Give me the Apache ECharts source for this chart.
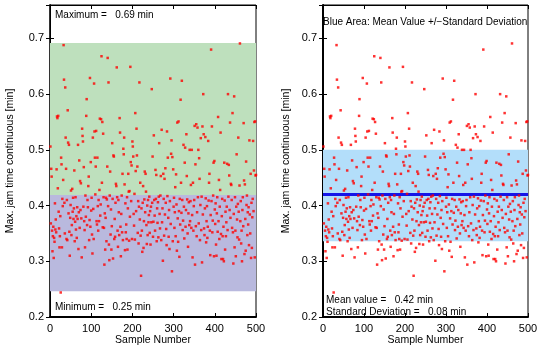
<!DOCTYPE html>
<html>
<head>
<meta charset="utf-8">
<script src="https://cdn.jsdelivr.net/npm/echarts@6/dist/echarts.min.js"></script>
<style>html,body{margin:0;padding:0;background:#fff}#c{width:537px;height:345px}</style>
</head>
<body>
<div id="c"></div>
<script>
// Max. jam time continuous [min] for sample numbers 1..500
const jamTime = [
0.506,0.368,0.466,0.452,0.355,0.318,0.345,0.362,0.306,0.342,0.335,0.404,0.357,0.375,0.352,0.465,0.560,0.557,0.431,0.561,
0.389,0.359,0.325,0.345,0.381,0.244,0.486,0.474,0.325,0.412,0.399,0.446,0.688,0.626,0.405,0.350,0.612,0.522,0.466,0.340,
0.410,0.338,0.571,0.513,0.386,0.509,0.353,0.310,0.378,0.401,0.427,0.347,0.365,0.430,0.389,0.414,0.376,0.395,0.463,0.336,
0.371,0.415,0.357,0.381,0.342,0.397,0.376,0.509,0.322,0.388,0.481,0.360,0.444,0.392,0.440,0.377,0.307,0.538,0.525,0.515,
0.398,0.469,0.372,0.356,0.325,0.418,0.380,0.561,0.591,0.365,0.410,0.397,0.435,0.452,0.338,0.374,0.629,0.362,0.478,0.391,
0.414,0.348,0.314,0.522,0.394,0.340,0.619,0.533,0.486,0.420,0.470,0.534,0.372,0.366,0.486,0.399,0.355,0.410,0.372,0.428,
0.556,0.382,0.402,0.555,0.668,0.441,0.550,0.361,0.529,0.415,0.360,0.294,0.386,0.321,0.378,0.414,0.336,0.411,0.470,0.665,
0.399,0.621,0.330,0.302,0.418,0.461,0.348,0.393,0.321,0.363,0.512,0.412,0.305,0.490,0.488,0.340,0.376,0.344,0.405,0.439,
0.435,0.648,0.415,0.355,0.326,0.410,0.388,0.347,0.557,0.531,0.362,0.309,0.385,0.418,0.352,0.457,0.338,0.502,0.492,0.522,
0.438,0.320,0.404,0.352,0.366,0.340,0.415,0.321,0.395,0.457,0.425,0.337,0.426,0.380,0.649,0.478,0.408,0.472,0.340,0.515,
0.506,0.488,0.385,0.364,0.421,0.339,0.566,0.462,0.390,0.538,0.490,0.470,0.351,0.408,0.332,0.398,0.621,0.375,0.441,0.346,
0.274,0.395,0.355,0.317,0.405,0.435,0.324,0.372,0.411,0.461,0.388,0.457,0.425,0.365,0.331,0.400,0.347,0.410,0.370,0.383,
0.416,0.351,0.390,0.330,0.398,0.370,0.609,0.405,0.488,0.344,0.371,0.526,0.410,0.382,0.355,0.464,0.412,0.455,0.336,0.395,
0.369,0.406,0.343,0.416,0.512,0.385,0.359,0.418,0.453,0.338,0.536,0.370,0.395,0.301,0.457,0.412,0.346,0.448,0.384,0.467,
0.405,0.358,0.329,0.533,0.417,0.486,0.378,0.344,0.392,0.322,0.408,0.628,0.367,0.493,0.517,0.282,0.487,0.336,0.465,0.398,
0.414,0.360,0.388,0.433,0.345,0.456,0.402,0.319,0.549,0.377,0.335,0.551,0.390,0.308,0.412,0.366,0.590,0.441,0.387,0.624,
0.410,0.356,0.373,0.509,0.398,0.341,0.477,0.504,0.362,0.392,0.528,0.453,0.411,0.350,0.326,0.386,0.406,0.365,0.500,0.372,
0.408,0.437,0.360,0.500,0.383,0.307,0.441,0.355,0.399,0.410,0.543,0.294,0.474,0.363,0.546,0.345,0.388,0.540,0.415,0.500,
0.368,0.485,0.448,0.338,0.401,0.521,0.356,0.416,0.298,0.542,0.384,0.600,0.528,0.359,0.347,0.395,0.523,0.413,0.334,0.372,
0.399,0.342,0.362,0.516,0.409,0.441,0.457,0.355,0.311,0.383,0.680,0.408,0.542,0.352,0.373,0.418,0.477,0.309,0.480,0.393,
0.367,0.404,0.330,0.310,0.386,0.415,0.353,0.559,0.372,0.446,0.340,0.398,0.428,0.531,0.349,0.304,0.381,0.412,0.345,0.304,
0.362,0.300,0.477,0.409,0.321,0.389,0.345,0.370,0.398,0.475,0.356,0.600,0.416,0.473,0.454,0.392,0.549,0.378,0.439,0.437,
0.410,0.360,0.566,0.352,0.296,0.385,0.596,0.325,0.415,0.355,0.309,0.398,0.492,0.375,0.343,0.403,0.522,0.389,0.339,0.436,
0.691,0.372,0.408,0.332,0.355,0.300,0.392,0.415,0.363,0.548,0.445,0.313,0.438,0.376,0.319,0.479,0.401,0.418,0.347,0.388,
0.366,0.397,0.329,0.517,0.384,0.350,0.457,0.306,0.405,0.324,0.379,0.412,0.516,0.390,0.463,0.550,0.307,0.551,0.454,0.455
];
// statistics
const statLabels = ['Maximum', 'Minimum', 'Mean value', 'Standard Deviation'];
const statValues = [0.69, 0.25, 0.42, 0.08];
// band edges: [min, mean, max] and mean +/- std
const leftBands = [0.246, 0.419, 0.692];
const rightBand = [0.336, 0.500];
const meanLine = 0.419;
const xTicks = [0, 100, 200, 300, 400, 500];
const yTicks = [0.2, 0.3, 0.4, 0.5, 0.6, 0.7];

const points = jamTime.map((v, i) => [i + 1, v]);
const FONT = 'Liberation Sans, Arial, sans-serif';
const tickTxt = {fontFamily: FONT, fontSize: 11, color: '#000'};
const nameTxt = {fontFamily: FONT, fontSize: 10.5, color: '#000'};
const annFont = '10px ' + FONT;

function xAxes(gi) {
  return [
    {gridIndex: gi, type: 'value', min: xTicks[0], max: xTicks[xTicks.length-1], interval: 100, position: 'bottom',
     name: 'Sample Number', nameLocation: 'middle', nameGap: 18, nameMoveOverlap: false, nameTextStyle: nameTxt,
     axisLine: {show: true, lineStyle: {color: '#000', width: 2}},
     axisTick: {show: true, inside: true, length: 4, lineStyle: {color: '#000'}},
     axisLabel: Object.assign({margin: 6}, tickTxt), splitLine: {show: false}},
    {gridIndex: gi, type: 'value', min: xTicks[0], max: xTicks[xTicks.length-1], interval: 100, position: 'top',
     axisLine: {show: true, lineStyle: {color: '#000', width: 1}},
     axisTick: {show: true, inside: true, length: 4, lineStyle: {color: '#000'}},
     axisLabel: {show: false}, splitLine: {show: false}}
  ];
}
function yAxes(gi, gap) {
  return [
    {gridIndex: gi, type: 'value', min: yTicks[0], max: 0.76, interval: 0.1, position: 'left',
     name: 'Max. jam time continuous [min]', nameLocation: 'middle', nameGap: gap, nameMoveOverlap: false, nameTextStyle: nameTxt,
     axisLine: {show: true, lineStyle: {color: gi === 0 ? '#333' : '#000', width: 2}},
     axisTick: {show: true, inside: true, length: 4, lineStyle: {color: '#000'}},
     axisLabel: Object.assign({margin: 6, showMaxLabel: false, formatter: v => v.toFixed(1)}, tickTxt),
     splitLine: {show: false}},
    {gridIndex: gi, type: 'value', min: yTicks[0], max: 0.76, interval: 0.1, position: 'right',
     axisLine: {show: true, lineStyle: {color: '#000', width: 1}},
     axisTick: {show: true, inside: true, length: 4, lineStyle: {color: '#000'}},
     axisLabel: {show: false}, splitLine: {show: false}}
  ];
}

const gridBase = {top: 5, bottom: 28, outerBoundsMode: 'none', containLabel: false,
  show: true, borderColor: '#000', borderWidth: 1, backgroundColor: 'transparent'};

const option = {
  animation: false,
  backgroundColor: '#fff',
  grid: [
    Object.assign({left: 50, right: 281}, gridBase),
    Object.assign({left: 323, right: 9}, gridBase)
  ],
  xAxis: [...xAxes(0), ...xAxes(1)],
  yAxis: [...yAxes(0, 34), ...yAxes(1, 31)],
  series: [
    {type: 'scatter', xAxisIndex: 0, yAxisIndex: 0, data: [], z: 1, silent: true,
     markArea: {silent: true, data: [
       [{yAxis: leftBands[1], itemStyle: {color: '#bee0bd'}}, {yAxis: leftBands[2]}],
       [{yAxis: leftBands[0], itemStyle: {color: '#b9b9de'}}, {yAxis: leftBands[1]}]
     ]}},
    {type: 'scatter', xAxisIndex: 1, yAxisIndex: 1, data: [], silent: true},
    {type: 'scatter', xAxisIndex: 0, yAxisIndex: 0, data: points, symbol: 'rect', symbolSize: 2.5,
     itemStyle: {color: '#ff0000'}, z: 5},
    {type: 'scatter', xAxisIndex: 2, yAxisIndex: 2, data: [], z: 1, silent: true,
     markArea: {silent: true, data: [
       [{yAxis: rightBand[0], itemStyle: {color: '#b3defa'}}, {yAxis: rightBand[1]}]
     ]},
     markLine: {silent: true, symbol: 'none', label: {show: false},
       lineStyle: {color: '#1515e8', width: 3, type: 'solid'}, data: [{yAxis: meanLine}]}},
    {type: 'scatter', xAxisIndex: 3, yAxisIndex: 3, data: [], silent: true},
    {type: 'scatter', xAxisIndex: 2, yAxisIndex: 2, data: points, symbol: 'rect', symbolSize: 2.5,
     itemStyle: {color: '#ff0000'}, z: 5}
  ],
  graphic: [
    {type: 'text', left: 55, top: 10, z: 10, style: {text: statLabels[0] + ' =   ' + statValues[0].toFixed(2) + ' min', fill: '#000', font: annFont}},
    {type: 'text', left: 55, top: 302, z: 10, style: {text: statLabels[1] + ' =   ' + statValues[1].toFixed(2) + ' min', fill: '#000', font: annFont}},
    {type: 'text', left: 323, top: 17, z: 10, style: {text: 'Blue Area: Mean Value +/\u2212Standard Deviation', fill: '#000', font: annFont}},
    {type: 'text', left: 326, top: 295, z: 10, style: {text: statLabels[2] + ' =   ' + statValues[2].toFixed(2) + ' min', fill: '#000', font: annFont}},
    {type: 'text', left: 326, top: 307, z: 10, style: {text: statLabels[3] + ' =   ' + statValues[3].toFixed(2) + ' min', fill: '#000', font: annFont}}
  ]
};
echarts.init(document.getElementById('c'), null, {renderer: 'canvas'}).setOption(option);
</script>
</body>
</html>
